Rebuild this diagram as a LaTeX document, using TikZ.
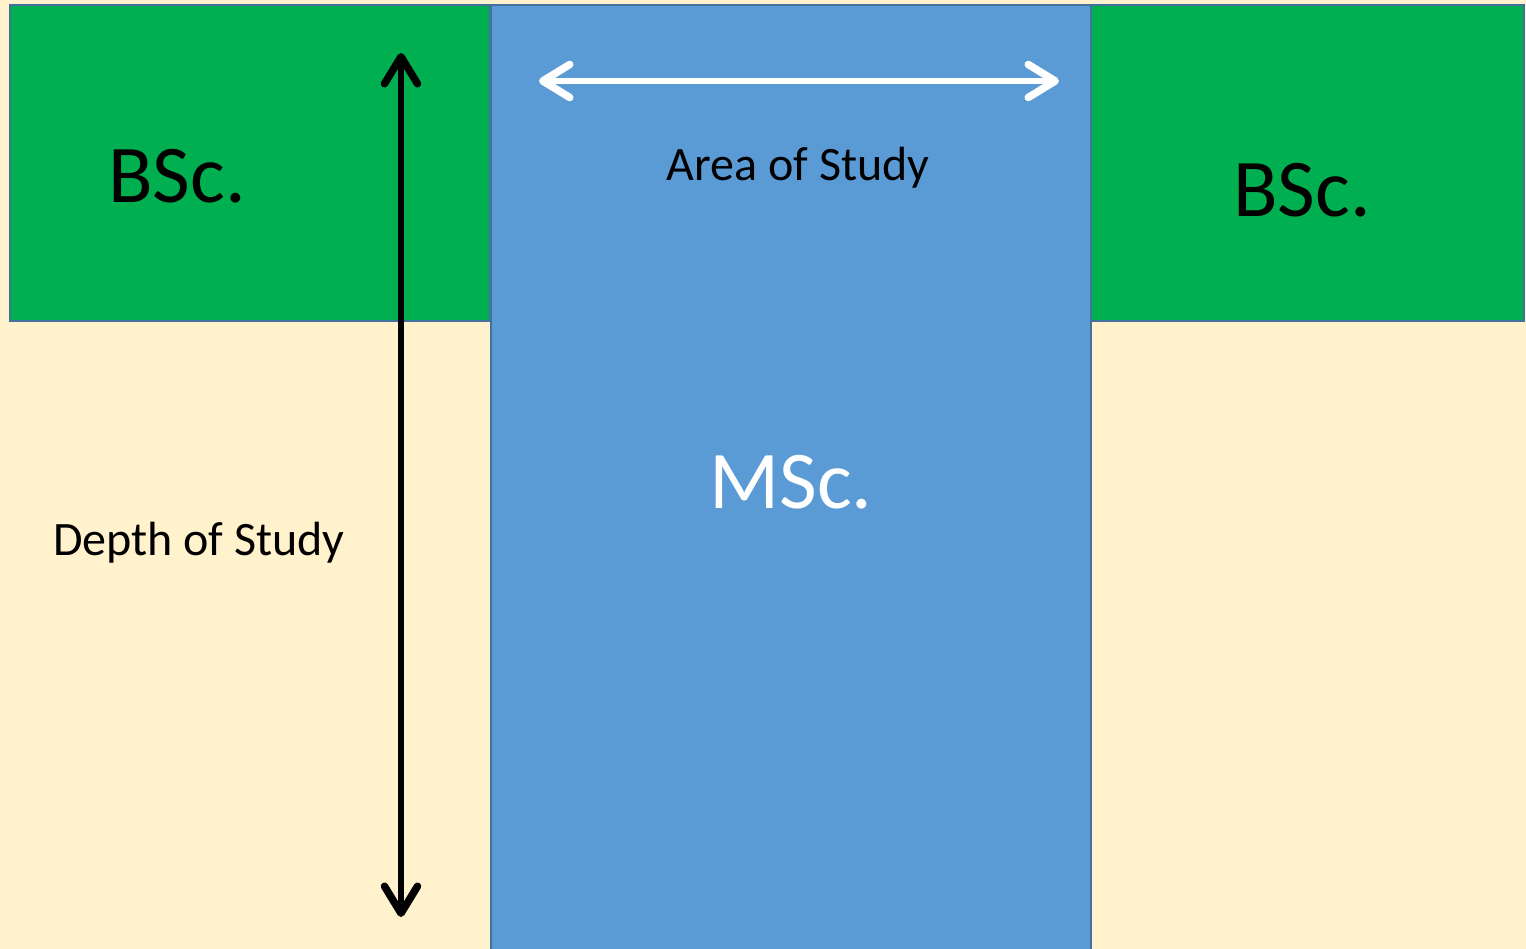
\documentclass[tikz,border=0pt]{standalone}
\usepackage{fontspec}
\setmainfont{Carlito}
\usetikzlibrary{arrows.meta}
\definecolor{cream}{HTML}{FFF2CC}
\definecolor{bscgreen}{HTML}{00B050}
\definecolor{mscblue}{HTML}{5B9BD5}
\definecolor{edgeblue}{HTML}{41719C}
\tikzset{
  panel/.style={draw=edgeblue, line width=2pt},
  bigtext/.style={font=\fontsize{82}{90}\selectfont, inner sep=0pt, anchor=base},
  labeltext/.style={font=\fontsize{48}{56}\selectfont, inner sep=0pt, anchor=base},
  barbtip/.tip={Straight Barb[length=27pt, width=33pt, round, line width=2pt 1]},
  dblarrow/.style={line width=5.5pt, {barbtip}-{barbtip}}
}
\begin{document}
\begin{tikzpicture}[x=1pt, y=-1pt]
\useasboundingbox (0,0) rectangle (1526,949);
\clip (0,0) rectangle (1526,949);
\fill[cream] (0,0) rectangle (1526,949);
\draw[panel, fill=bscgreen] (10,5) rectangle (490,321);
\draw[panel, fill=bscgreen] (1091,5) rectangle (1524,321);
\draw[panel, fill=mscblue] (491,5) rectangle (1091,960);
\node[bigtext] (bscl) at (177,203) {BSc.};
\node[bigtext] (bscr) at (1302,217) {BSc.};
\node[bigtext, text=white] (msc) at (791,508) {MSc.};
\node[labeltext] (area) at (798,181) {Area of Study};
\node[labeltext] (depth) at (199,555) {Depth of Study};
\coordinate (vtop) at (401,53);
\coordinate (vbot) at (401,917);
\coordinate (hl) at (539,81);
\coordinate (hr) at (1059,81);
\draw[dblarrow, black] (vtop) -- (vbot);
\draw[dblarrow, white] (hl) -- (hr);
\end{tikzpicture}
\end{document}
